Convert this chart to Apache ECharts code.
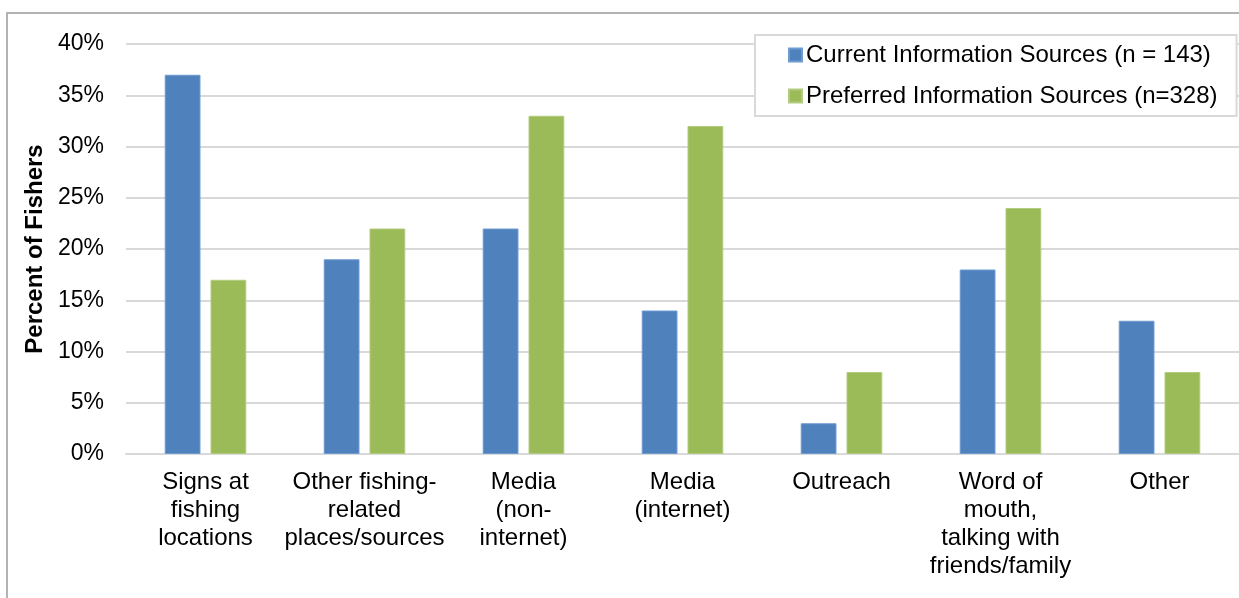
<!DOCTYPE html>
<html>
<head>
<meta charset="utf-8">
<script src="https://cdn.jsdelivr.net/npm/echarts@6/dist/echarts.min.js"></script>
<style>html,body{margin:0;padding:0;background:#fff;}#c{width:1239px;height:598px;}</style>
</head>
<body>
<div id="c"></div>
<script>
var categories = ["Signs at\nfishing\nlocations", "Other fishing-\nrelated\nplaces/sources", "Media\n(non-\ninternet)", "Media\n(internet)", "Outreach", "Word of\nmouth,\ntalking with\nfriends/family", "Other"];
var currentValues = [37, 19, 22, 14, 3, 18, 13];
var preferredValues = [17, 22, 33, 32, 8, 24, 8];
var seriesNames = ["Current Information Sources (n = 143)", "Preferred Information Sources (n=328)"];
var yTitle = "Percent of Fishers";

var chart = echarts.init(document.getElementById('c'), null, {renderer: 'canvas'});
var font = 'Liberation Sans, Arial, sans-serif';
chart.setOption({
  animation: false,
  textStyle: {fontFamily: font},
  graphic: [{
    type: 'rect', shape: {x: 7, y: 13, width: 1245, height: 600},
    style: {fill: 'none', stroke: '#b3b3b3', lineWidth: 2}, silent: true, z: -1
  }],
  grid: {left: 126, top: 44, width: 1122, height: 410, containLabel: false},
  legend: {
    orient: 'vertical', left: 755, top: 35,
    padding: [8, 19, 8, 33], itemGap: 17,
    itemWidth: 13, itemHeight: 13,
    backgroundColor: '#fff', borderColor: '#d9d9d9', borderWidth: 2,
    textStyle: {fontSize: 24, color: '#000', fontFamily: font, padding: [0, 0, 0, -1]},
    data: [{name: seriesNames[0], icon: 'rect'}, {name: seriesNames[1], icon: 'rect'}]
  },
  xAxis: {
    type: 'category', data: categories,
    axisLine: {lineStyle: {color: '#d9d9d9', width: 2}},
    axisTick: {show: false},
    axisLabel: {interval: 0, fontSize: 24, color: '#000', lineHeight: 28, margin: 14, fontFamily: font}
  },
  yAxis: {
    type: 'value', min: 0, max: 40, interval: 5,
    name: yTitle, nameLocation: 'middle', nameGap: 73,
    nameTextStyle: {fontSize: 24, fontWeight: 'bold', color: '#000', fontFamily: font},
    axisLine: {show: false}, axisTick: {show: false},
    axisLabel: {formatter: '{value}%', fontSize: 23, color: '#000', margin: 22, fontFamily: font},
    splitLine: {lineStyle: {color: '#d9d9d9', width: 2}}
  },
  series: [
    {name: seriesNames[0], type: 'bar', data: currentValues, barWidth: '22.5%', barGap: '28%',
     itemStyle: {color: '#4f81bd', borderColor: '#6f9bd1', borderWidth: 1}},
    {name: seriesNames[1], type: 'bar', data: preferredValues, barWidth: '22.5%', barGap: '28%',
     itemStyle: {color: '#9bbb59', borderColor: '#b2cc7f', borderWidth: 1}}
  ]
});
</script>
</body>
</html>
